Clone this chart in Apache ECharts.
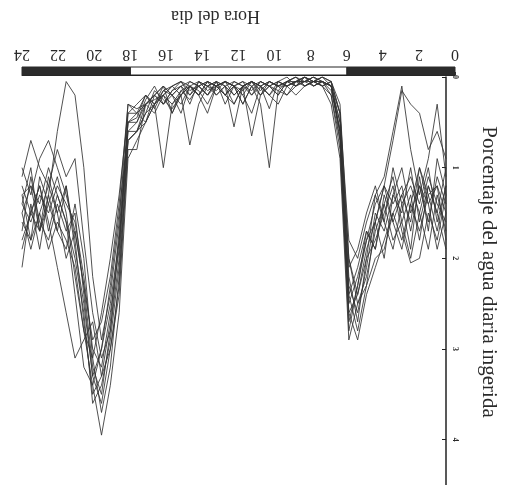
<!DOCTYPE html>
<html>
<head>
<meta charset="utf-8">
<script src="https://cdn.jsdelivr.net/npm/echarts@6/dist/echarts.min.js"></script>
<style>
html,body{margin:0;padding:0;background:#fff;}
#main{width:507px;height:485px;}
</style>
</head>
<body>
<div id="main"></div>
<script>
// hora del dia, cada media hora
var hours = [0,0.5,1,1.5,2,2.5,3,3.5,4,4.5,5,5.5,6,6.5,7,7.5,8,8.5,9,9.5,10,10.5,11,11.5,12,12.5,13,13.5,14,14.5,15,15.5,16,16.5,17,17.5,18,18.5,19,19.5,20,20.5,21,21.5,22,22.5,23,23.5,24];

// porcentaje del agua diaria ingerida, un animal por serie
var s1 = [1.4,1.1,1.6,1.2,1.5,1.0, 1.3,1.7,1.5,2.1,2.6,2.3, 0.5, 0.1,0.05,0.0,0.05,0.1,0.05,0.2,0.1,0.05,0.15,0.1,0.3,0.1,0.05,0.2,0.1,0.25,0.15,0.3,0.2,0.4,0.3,0.5, 0.5,1.9,2.6,3.2,3.0,2.2,1.6,1.4,1.2,1.5,1.3,1.6,1.4];
var s2 = [1.0,1.5,1.2,1.8,1.3,1.6, 1.1,1.4,1.9,1.7,2.3,2.7, 0.7, 0.2,0.1,0.05,0.0,0.05,0.1,0.3,0.2,0.1,0.05,0.1,0.05,0.2,0.1,0.3,0.15,0.1,0.2,0.35,0.25,0.15,0.4,0.6, 0.7,2.3,3.0,3.6,3.3,2.5,1.9,1.2,1.5,1.1,1.7,1.2,1.5];
var s3 = [0.9,0.6,0.8,0.4,0.3,0.15, 0.7,1.2,1.6,1.9,2.4,2.0, 0.3, 0.05,0.0,0.05,0.1,0.05,0.2,0.15,1.0,0.3,0.1,0.05,0.1,0.2,0.05,0.1,0.2,0.1,0.3,0.2,0.1,0.2,0.3,0.4, 0.4,2.0,2.8,3.1,2.6,1.8,0.9,1.1,0.8,1.2,1.0,0.7,1.1];
var s4 = [1.7,1.3,1.9,1.5,2.0,1.6, 1.8,1.4,1.7,2.2,2.5,2.9, 0.9, 0.3,0.1,0.05,0.1,0.0,0.05,0.1,0.2,0.1,0.4,0.2,0.1,0.05,0.15,0.1,0.05,0.2,0.1,0.15,0.3,0.2,0.5,0.7, 0.9,2.6,3.4,3.95,3.4,2.8,2.1,1.8,1.6,1.9,1.5,1.8,1.6];
var s5 = [1.2,1.6,1.0,1.4,1.1,1.3, 1.6,1.2,1.4,1.8,2.2,2.5, 0.6, 0.1,0.05,0.1,0.05,0.05,0.1,0.05,0.2,0.1,0.05,0.1,0.2,0.1,0.05,0.1,0.3,0.75,0.2,0.3,1.0,0.3,0.4,0.6, 0.6,2.1,2.9,3.4,3.6,2.6,2.0,1.6,1.3,1.0,1.4,1.2,1.3];
var s6 = [1.5,1.2,1.3,1.7,1.4,1.8, 1.5,1.9,2.0,2.3,2.8,2.4, 0.6, 0.15,0.05,0.0,0.05,0.1,0.0,0.05,0.1,0.2,0.1,0.3,0.1,0.05,0.1,0.2,0.1,0.05,0.2,0.4,0.2,0.3,0.5,0.4, 0.3,1.6,2.4,2.9,2.2,1.0,0.2,0.05,0.6,1.3,1.7,1.5,1.9];
var s7 = [1.1,0.3,0.9,1.3,0.8,0.1, 0.6,1.1,1.3,1.6,2.0,1.8, 0.4, 0.05,0.1,0.05,0.0,0.05,0.1,0.1,0.05,0.2,0.65,0.1,0.55,0.1,0.2,0.05,0.1,0.15,0.05,0.1,0.2,0.25,0.3,0.35, 0.3,1.4,2.2,2.7,2.9,2.3,1.7,1.3,1.0,0.7,0.9,1.3,1.0];
var s8 = [1.3,1.8,1.5,2.0,2.05,1.7, 1.2,1.5,1.8,2.0,2.4,2.6, 0.6, 0.1,0.05,0.05,0.1,0.2,0.1,0.05,0.1,0.05,0.2,0.1,0.3,0.2,0.1,0.05,0.2,0.1,0.15,0.4,0.1,0.2,0.3,0.8, 0.8,2.4,3.0,3.3,2.7,2.9,3.1,2.6,2.1,1.6,1.2,1.5,1.2];
var s9 = [1.6,1.4,1.1,1.5,1.2,1.4, 1.9,1.6,1.2,1.5,1.9,2.1, 0.4, 0.1,0.0,0.05,0.05,0.0,0.05,0.15,0.1,0.2,0.05,0.1,0.05,0.1,0.2,0.1,0.05,0.1,0.2,0.1,0.15,0.3,0.2,0.45, 0.5,1.8,2.5,3.0,3.3,2.4,1.5,1.7,1.4,1.8,1.6,1.1,1.7];
var s10 = [1.8,1.2,1.4,1.0,1.6,1.3, 1.5,1.8,2.1,2.4,2.9,2.6, 0.8, 0.2,0.05,0.1,0.0,0.05,0.05,0.1,0.05,0.1,0.05,0.2,0.1,0.05,0.1,0.4,0.2,0.1,0.05,0.1,0.2,0.3,0.5,0.6, 0.7,2.2,3.2,3.7,3.1,2.0,1.4,1.9,1.7,1.3,1.9,1.4,2.1];
var s11 = [1.3,0.9,1.7,1.1,1.9,1.4, 1.0,1.6,1.3,2.0,2.7,2.2, 0.6, 0.1,0.05,0.1,0.0,0.1,0.05,0.2,0.1,0.05,0.1,0.3,0.1,0.05,0.1,0.05,0.2,0.1,0.4,0.2,0.1,0.3,0.2,0.4, 0.5,1.7,2.7,3.3,3.5,2.7,1.8,1.2,1.7,1.4,1.1,1.8,1.3];
var s12 = [1.9,1.5,1.2,1.6,1.0,1.5, 1.3,2.0,1.6,1.8,2.3,2.8, 0.7, 0.05,0.1,0.0,0.05,0.05,0.1,0.05,0.35,0.1,0.2,0.05,0.1,0.3,0.05,0.2,0.1,0.05,0.1,0.2,0.3,0.1,0.25,0.5, 0.6,1.5,2.3,3.0,3.4,3.2,2.4,1.6,1.3,1.7,1.2,1.5,1.8];
var s13 = [1.2,1.7,1.3,1.0,1.4,1.9, 1.6,1.3,1.9,1.7,2.1,2.4, 0.4, 0.05,0.0,0.05,0.1,0.0,0.05,0.1,0.05,0.15,0.05,0.1,0.2,0.05,0.1,0.15,0.05,0.3,0.1,0.2,0.15,0.35,0.2,0.3, 0.4,1.3,2.0,2.6,3.1,2.8,2.2,1.5,1.1,1.4,1.7,1.0,1.4];
var s14 = [1.5,1.9,1.4,1.2,1.7,1.2, 1.4,1.2,1.6,2.3,2.5,2.0, 0.5, 0.1,0.05,0.05,0.0,0.1,0.2,0.1,0.05,0.1,0.05,0.15,0.1,0.2,0.1,0.05,0.1,0.2,0.05,0.15,0.3,0.2,0.3,0.6, 0.7,1.8,2.8,3.5,3.2,2.3,1.7,2.0,1.5,1.2,1.5,1.9,1.5];

// barra luz/oscuridad: [inicio, fin, luz]
var lightBar = [[0,6,0],[6,18,1],[18,24,0]];

var xTicks = [0,2,4,6,8,10,12,14,16,18,20,22,24];
var yTicks = [0,1,2,3,4];

var serif = '"Liberation Serif", "DejaVu Serif", serif';
var myChart = echarts.init(document.getElementById('main'));

function buildSeries(){
	var list = [s1,s2,s3,s4,s5,s6,s7,s8,s9,s10,s11,s12,s13,s14];
	var out = [];
	list.forEach(function(vals, i){
		out.push({
			name: 'animal ' + (i+1),
			type: 'line',
			xAxisIndex: 0,
			yAxisIndex: 0,
			data: vals.map(function(v, k){ return [hours[k], v]; }),
			showSymbol: false,
			symbol: 'none',
			lineStyle: { color: '#333', width: 1, opacity: 0.85 },
			silent: true,
			animation: false
		});
	});
	out.push({
		type: 'custom',
		xAxisIndex: 1,
		yAxisIndex: 1,
		data: lightBar,
		animation: false,
		renderItem: function(params, api){
			var p0 = api.coord([api.value(0), 1]);
			var p1 = api.coord([api.value(1), 0]);
			var x = Math.min(p0[0], p1[0]);
			var w = Math.abs(p1[0] - p0[0]);
			var day = api.value(2) === 1;
			return {
				type: 'rect',
				shape: { x: x, y: p0[1], width: w, height: p1[1] - p0[1] },
				style: day ? { fill: '#fff', stroke: '#222', lineWidth: 1 } : { fill: '#2b2b2b', stroke: '#2b2b2b', lineWidth: 1 }
			};
		}
	});
	return out;
}

var option = {
	backgroundColor: '#fff',
	animation: false,
	grid: [
		{ left: 22, right: 52, top: 77, bottom: 0 },
		{ left: 22, right: 52, top: 67, height: 8 }
	],
	xAxis: [{
		gridIndex: 0,
		type: 'value',
		min: 0,
		max: 24,
		inverse: true,
		show: false
	},{
		gridIndex: 1,
		type: 'value',
		min: 0,
		max: 24,
		interval: 2,
		inverse: true,
		position: 'top',
		name: 'Hora del dia',
		nameLocation: 'middle',
		nameGap: 42,
		nameRotate: 180,
		nameTextStyle: { fontFamily: serif, fontSize: 18, color: '#2a2a2a', padding: [0, 0, 0, 46] },
		axisLine: { show: true, lineStyle: { color: '#222', width: 1 } },
		axisTick: { show: true, length: 3, lineStyle: { color: '#333' } },
		axisLabel: {
			rotate: 180,
			margin: 5,
			fontFamily: serif,
			fontSize: 16,
			color: '#2a2a2a',
			formatter: function(v){ return xTicks.indexOf(v) > -1 ? String(v) : ''; }
		},
		splitLine: { show: false }
	}],
	yAxis: [{
		gridIndex: 0,
		type: 'value',
		min: 0,
		max: 4.5,
		interval: 1,
		inverse: true,
		position: 'right',
		name: 'Porcentaje del agua diaria ingerida',
		nameLocation: 'middle',
		nameGap: 32,
		nameRotate: -90,
		nameTextStyle: { fontFamily: serif, fontSize: 21, color: '#2a2a2a', padding: [0, 18, 0, 0] },
		axisLine: { show: true, lineStyle: { color: '#222', width: 1.5 } },
		axisTick: { show: true, inside: true, length: 4, lineStyle: { color: '#222' } },
		axisLabel: {
			rotate: -90,
			margin: 5,
			fontFamily: serif,
			fontSize: 8,
			fontWeight: 'bold',
			color: '#2a2a2a',
			showMaxLabel: false,
			formatter: function(v){ return yTicks.indexOf(v) > -1 ? String(v) : ''; }
		},
		splitLine: { show: false }
	},{
		gridIndex: 1,
		type: 'value',
		min: 0,
		max: 1,
		show: false
	}],
	series: buildSeries()
};

myChart.setOption(option);
</script>
</body>
</html>
